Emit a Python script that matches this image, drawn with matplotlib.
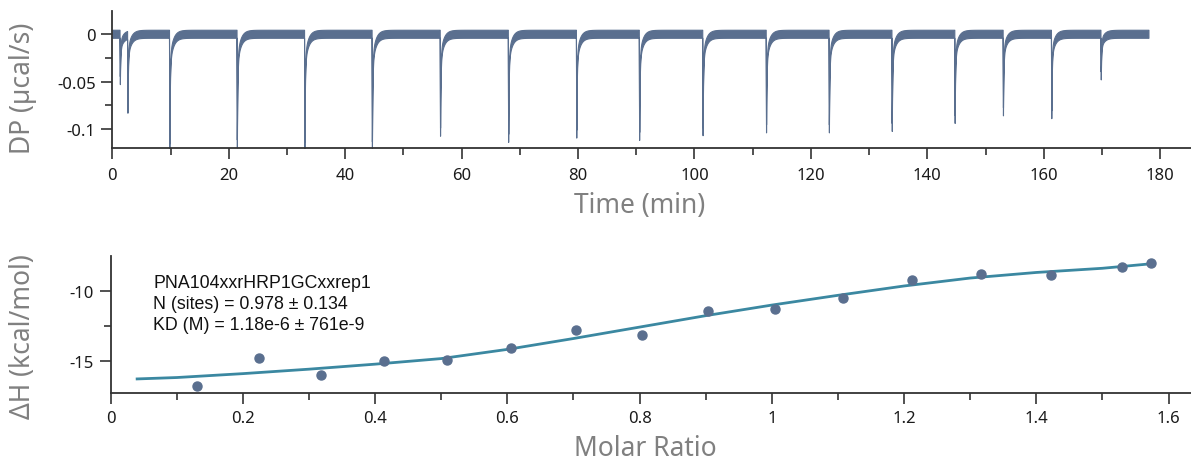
import matplotlib

matplotlib.use("Agg")
import matplotlib.pyplot as plt
import numpy as np
from matplotlib.ticker import FuncFormatter, MultipleLocator

plt.rcParams["font.family"] = ["Noto Sans", "DejaVu Sans"]
plt.rcParams["axes.unicode_minus"] = False

# raw thermogram: injection times (min) and peak minima (ucal/s)
inj_times = [1.3, 2.6, 9.8, 21.4, 33.0, 44.6, 56.3, 68.0, 79.7, 90.5, 101.4,
             112.3, 123.1, 133.9, 144.7, 153.0, 161.3, 169.8]
inj_depths = [-0.049, -0.078, -0.120, -0.116, -0.118, -0.118, -0.1035, -0.110, -0.1055,
              -0.108, -0.103, -0.100, -0.100, -0.0985, -0.090, -0.082, -0.085, -0.044]
run_end = 178.0
band_hi, band_lo = 0.005, -0.0035   # width of the noisy baseline band

# integrated heats
molar_ratio = [0.131, 0.224, 0.318, 0.413, 0.509, 0.606, 0.704, 0.804, 0.904,
               1.005, 1.108, 1.212, 1.316, 1.422, 1.529, 1.573]
dh = [-16.85, -14.83, -16.03, -15.00, -14.93, -14.13, -12.84, -13.17, -11.47,
      -11.30, -10.53, -9.25, -8.77, -8.87, -8.29, -8.03]

# fitted curve
fit_x = [0.04, 0.1, 0.2, 0.3, 0.4, 0.5, 0.6, 0.7, 0.8, 0.9, 1.0, 1.1, 1.2, 1.3,
         1.4, 1.5, 1.575]
fit_y = [-16.32, -16.22, -15.94, -15.62, -15.26, -14.86, -14.2, -13.42, -12.6,
         -11.78, -11.02, -10.32, -9.65, -9.08, -8.68, -8.38, -8.05]

fit_text = "PNA104xxrHRP1GCxxrep1\nN (sites) = 0.978 ± 0.134\nKD (M) = 1.18e-6 ± 761e-9"

C_TRACE = "#5a6f8f"
C_FIT = "#3b88a1"
C_LABEL = "#808080"
C_TICK = "#1a1a1a"

W, H = 1191, 464


def peak_profile(t):
    y = np.zeros_like(t)
    for ti, d in zip(inj_times, inj_depths):
        fall = (t >= ti - 0.06) & (t < ti)
        y[fall] += d * (t[fall] - (ti - 0.06)) / 0.06
        dt = t - ti
        rec = dt >= 0
        y[rec] += d * (0.74 * np.exp(-dt[rec] / 0.08) + 0.26 * np.exp(-dt[rec] / 0.55))
    return y


def style_axis(ax):
    for s in ("top", "right"):
        ax.spines[s].set_visible(False)
    for s in ("left", "bottom"):
        ax.spines[s].set_color("#333333")
        ax.spines[s].set_linewidth(1.3)
    ax.tick_params(which="major", length=8, width=1.1, color="#222222",
                   labelsize=12, labelcolor=C_TICK, pad=4)
    ax.tick_params(which="minor", length=5, width=1.1, color="#222222")


fig = plt.figure(figsize=(W / 100, H / 100), dpi=100)

# --- thermogram ---
ax1 = fig.add_axes([112.3 / W, 1 - 149 / H, (W - 112.3) / W, 136.7 / H])
t = np.arange(0, run_end, 0.01)
prof = peak_profile(t)
ax1.fill_between(t, prof + band_lo, prof + band_hi, color=C_TRACE, lw=0.8, edgecolor=C_TRACE)
ax1.set_xlim(0, 185.3)
ax1.set_ylim(-0.12, 0.0245)
ax1.xaxis.set_major_locator(MultipleLocator(20))
ax1.xaxis.set_minor_locator(MultipleLocator(10))
ax1.yaxis.set_major_locator(MultipleLocator(0.05))
ax1.yaxis.set_minor_locator(MultipleLocator(0.025))
ax1.yaxis.set_major_formatter(FuncFormatter(lambda v, p: f"{v:g}" if abs(v) > 1e-9 else "0"))
style_axis(ax1)
ax1.tick_params(axis="x", which="major", pad=6)

# --- binding isotherm ---
ax2 = fig.add_axes([110.7 / W, 1 - 394 / H, (W - 110.7) / W, 136.7 / H])
ax2.plot(fit_x, fit_y, color=C_FIT, lw=2.0, zorder=2)
ax2.plot(molar_ratio, dh, "o", color=C_TRACE, ms=6.5, zorder=3)
ax2.set_xlim(0, 1.634)
ax2.set_ylim(-17.33, -7.52)
ax2.xaxis.set_major_locator(MultipleLocator(0.2))
ax2.xaxis.set_minor_locator(MultipleLocator(0.1))
ax2.yaxis.set_major_locator(MultipleLocator(5))
ax2.yaxis.set_minor_locator(MultipleLocator(2.5))
ax2.xaxis.set_major_formatter(FuncFormatter(lambda v, p: f"{v:g}" if abs(v) > 1e-9 else "0"))
style_axis(ax2)
ax2.text(0.064, -8.82, fit_text, fontsize=12.8, family="Liberation Sans", va="top",
         ha="left", color="#111111", linespacing=1.3)

# axis titles
lab = dict(fontsize=19, color=C_LABEL, ha="center", va="center")
fig.text(23 / W, 1 - 88 / H, "DP (µcal/s)", rotation=90, **lab)
fig.text(23 / W, 1 - 337 / H, "ΔH (kcal/mol)", rotation=90, **lab)
fig.text(640 / W, 1 - 206 / H, "Time (min)", **lab)
fig.text(645 / W, 1 - 449 / H, "Molar Ratio", **lab)

fig.savefig("out.png", dpi=100)
